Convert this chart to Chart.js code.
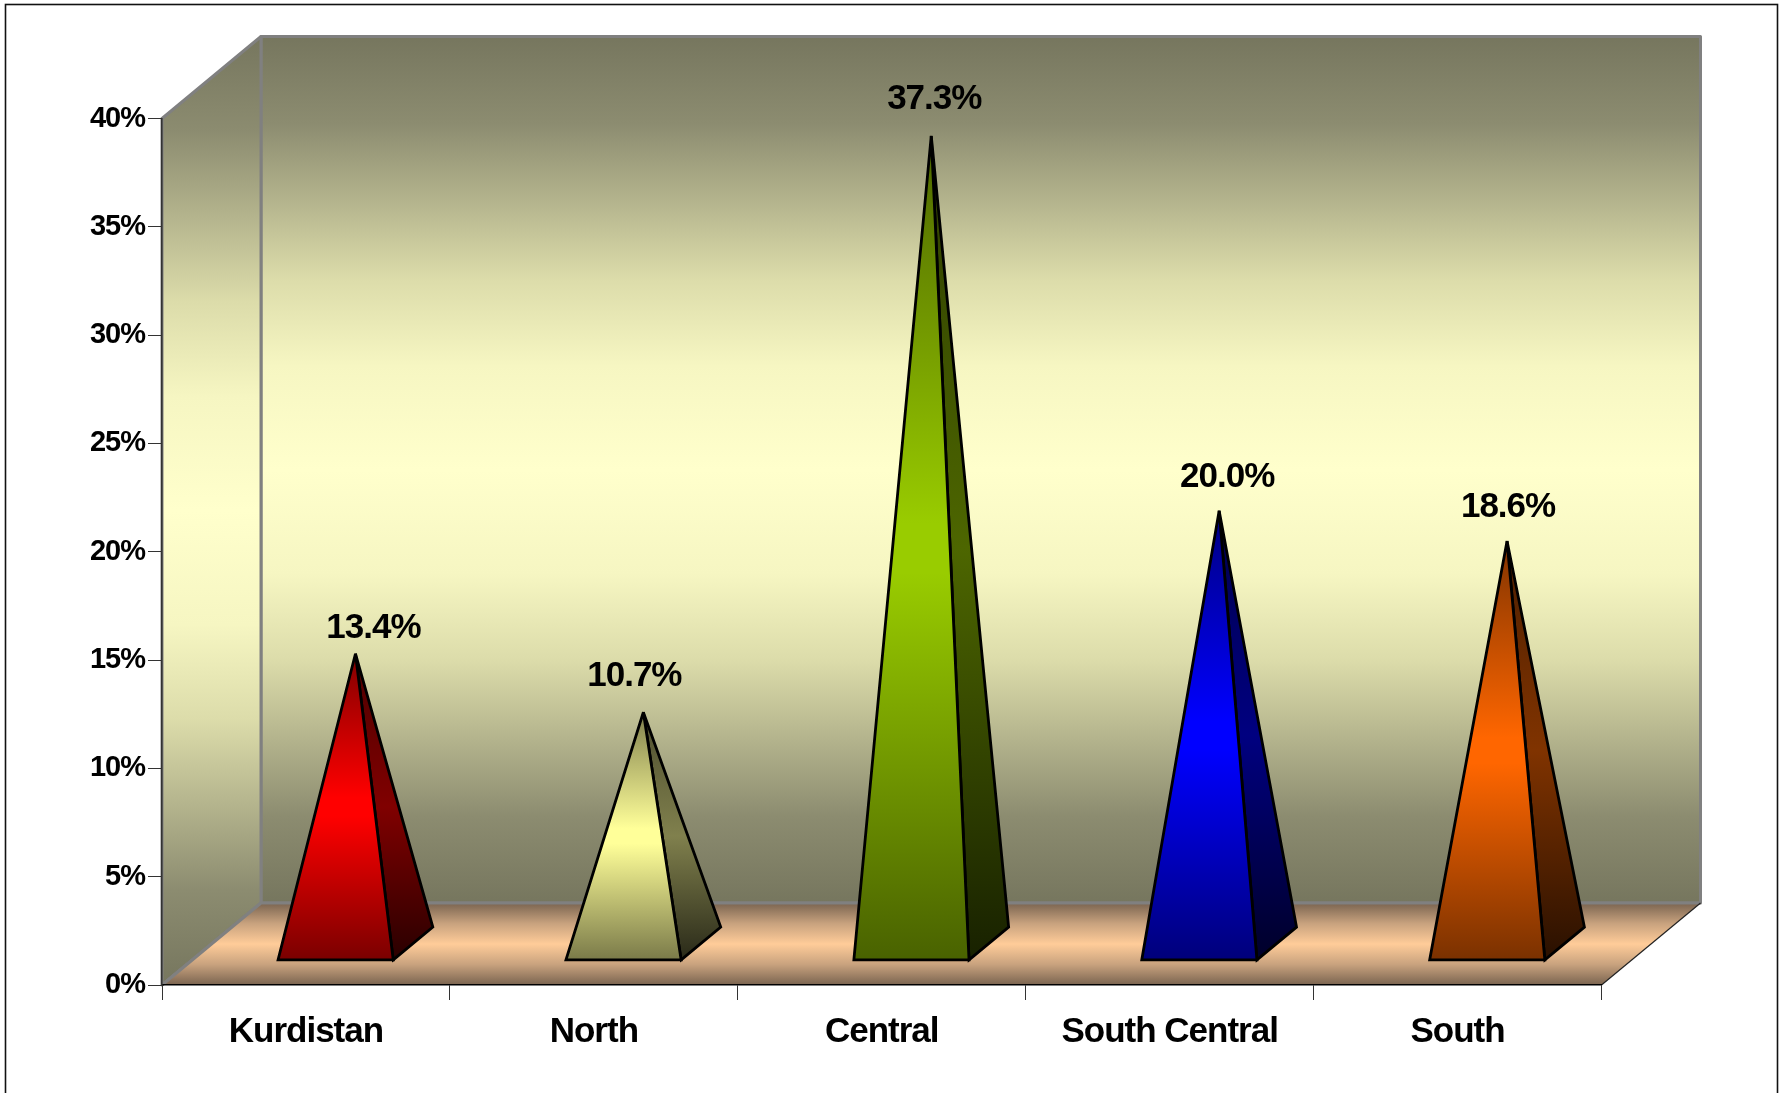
<!DOCTYPE html>
<html>
<head>
<meta charset="utf-8">
<title>Regional shares</title>
<script src="https://cdn.jsdelivr.net/npm/chart.js@4"></script>
<style>
html, body { margin: 0; padding: 0; background: #fff; overflow: hidden; }
canvas { display: block; }
</style>
</head>
<body>
<canvas id="myChart" width="1785" height="1093"></canvas>
<script>
var regions = ["Kurdistan", "North", "Central", "South Central", "South"];
var shares = [13.4, 10.7, 37.3, 20.0, 18.6];
var pyramidColors = ["#ff0000", "#ffff99", "#99cc00", "#0000ff", "#ff6600"];

// how far the 3d box runs back, up and to the right
var DEPTH_X = 99;
var DEPTH_Y = 82;

function shade(hex, k) {
    var n = parseInt(hex.slice(1), 16);
    return "rgb(" + Math.round((n >> 16) * k) + "," + Math.round(((n >> 8) & 255) * k) + "," + Math.round((n & 255) * k) + ")";
}

function vGradient(ctx, y0, y1, stops) {
    var g = ctx.createLinearGradient(0, y0, 0, y1);
    stops.forEach(function (s) { g.addColorStop(s[0], s[1]); });
    return g;
}

function poly(ctx, pts, fill, stroke, lw) {
    ctx.beginPath();
    pts.forEach(function (p, i) { i ? ctx.lineTo(p[0], p[1]) : ctx.moveTo(p[0], p[1]); });
    ctx.closePath();
    if (fill) { ctx.fillStyle = fill; ctx.fill(); }
    if (stroke) { ctx.strokeStyle = stroke; ctx.lineWidth = lw; ctx.stroke(); }
}

// a bar element that paints itself as a four sided pyramid
class PyramidBar extends Chart.BarElement {
    draw(ctx) {
        var p = this.getProps(["x", "y", "base", "width"]);
        var color = this.options.backgroundColor;
        var left = p.x - p.width / 2, right = p.x + p.width / 2;
        var frontY = p.base - DEPTH_Y * 0.3, backY = p.base - DEPTH_Y * 0.7;
        var fl = [left + DEPTH_X * 0.3, frontY];
        var fr = [right + DEPTH_X * 0.3, frontY];
        var br = [right + DEPTH_X * 0.7, backY];
        var apex = [p.x + DEPTH_X * 0.5, p.y - DEPTH_Y * 0.5];

        ctx.save();
        ctx.lineJoin = "miter";
        ctx.miterLimit = 3;
        poly(ctx, [fr, br, apex], vGradient(ctx, apex[1], frontY, [
            [0, shade(color, 0.3)], [0.5, shade(color, 0.5)], [1, shade(color, 0.16)]
        ]), "#000", 2.8);
        poly(ctx, [fl, fr, apex], vGradient(ctx, apex[1], frontY, [
            [0, shade(color, 0.5)], [0.47, color], [0.53, color], [1, shade(color, 0.48)]
        ]), "#000", 2.8);
        ctx.restore();
    }
}
PyramidBar.id = "pyramidBar";
PyramidBar.defaults = Chart.BarElement.defaults;

class PyramidController extends Chart.BarController {}
PyramidController.id = "pyramid";
PyramidController.defaults = { dataElementType: "pyramidBar" };

Chart.register(PyramidBar, PyramidController);

var boxPlugin = {
    id: "box",
    beforeDraw: function (chart) {
        var ctx = chart.ctx, a = chart.chartArea;
        var backL = a.left + DEPTH_X, backR = a.right + DEPTH_X;
        var backT = a.top - DEPTH_Y, backB = a.bottom - DEPTH_Y;
        var wallStops = [
            [0, "#76765e"], [0.1, "#8c8c70"], [0.28, "#dcdcaa"], [0.38, "#f6f6c2"], [0.5, "#ffffcc"],
            [0.62, "#f6f6c2"], [0.72, "#dcdcaa"], [0.9, "#8c8c70"], [1, "#76765e"]
        ];

        ctx.save();
        ctx.fillStyle = "#fff";
        ctx.fillRect(0, 0, chart.width, chart.height);

        // frame round the picture, its bottom edge is cut off
        ctx.strokeStyle = "#111";
        ctx.lineWidth = 1.6;
        ctx.strokeRect(5.5, 4.5, 1772, 1200);

        ctx.lineJoin = "round";
        poly(ctx, [[backL, backT], [backR, backT], [backR, backB], [backL, backB]],
            vGradient(ctx, backT, backB, wallStops), "#808080", 3);
        poly(ctx, [[a.left, a.top], [backL, backT], [backL, backB], [a.left, a.bottom]],
            vGradient(ctx, backT, a.bottom, wallStops), "#808080", 3);
        poly(ctx, [[a.left, a.bottom], [backL, backB], [backR, backB], [a.right, a.bottom]],
            vGradient(ctx, backB, a.bottom, [[0, "#7a6450"], [0.25, "#c8a27e"], [0.5, "#ffcc99"], [0.75, "#c8a27e"], [1, "#7a6450"]]));
        ctx.strokeStyle = "#808080";
        ctx.lineWidth = 3;
        ctx.beginPath();
        ctx.moveTo(a.left, a.bottom); ctx.lineTo(backL, backB); ctx.lineTo(backR, backB);
        ctx.stroke();
        ctx.strokeStyle = "#222";
        ctx.lineWidth = 1.2;
        ctx.beginPath();
        ctx.moveTo(a.right, a.bottom); ctx.lineTo(backR, backB);
        ctx.stroke();
        ctx.restore();

        // the labels in the original are tightly set
        ctx.letterSpacing = "-1px";
    },
    afterDatasetsDraw: function (chart) {
        var ctx = chart.ctx, ds = chart.data.datasets[0];
        ctx.save();
        ctx.font = "bold 35px 'Liberation Sans', Arial, sans-serif";
        ctx.fillStyle = "#000";
        ctx.textAlign = "center";
        ctx.textBaseline = "middle";
        chart.getDatasetMeta(0).data.forEach(function (bar, i) {
            var nudge = ds.labelNudge[i];
            ctx.fillText(shares[i].toFixed(1) + "%", bar.x + DEPTH_X * 0.5 + nudge[0], bar.y - DEPTH_Y * 0.5 - nudge[1]);
        });
        ctx.restore();
    }
};

new Chart("myChart", {
    type: "pyramid",
    data: {
        labels: regions,
        datasets: [{
            data: shares,
            backgroundColor: pyramidColors,
            barPercentage: 0.4,
            categoryPercentage: 1,
            // labels were moved by hand in the original
            labelNudge: [[18, 25], [-9, 36], [3, 37], [8, 33], [1, 34]]
        }]
    },
    options: {
        responsive: false,
        animation: false,
        devicePixelRatio: 1,
        layout: { padding: { left: 0, top: 118.5, right: 183.5, bottom: 0 } },
        plugins: { legend: { display: false }, tooltip: { enabled: false } },
        scales: {
            x: {
                afterFit: function (s) { s.height = 108; },
                grid: { drawOnChartArea: false, color: "#333", tickLength: 15, offset: true },
                border: { color: "#000", width: 1.4 },
                ticks: {
                    color: "#000",
                    padding: 11,
                    maxRotation: 0,
                    font: { family: "'Liberation Sans', Arial, sans-serif", size: 35, weight: "bold" }
                }
            },
            y: {
                min: 0,
                max: 40,
                afterFit: function (s) { s.width = 162; },
                grid: { drawOnChartArea: false, color: "#333", tickLength: 14 },
                border: { color: "#333", width: 1.6 },
                ticks: {
                    stepSize: 5,
                    color: "#000",
                    padding: 3,
                    font: { family: "'Liberation Sans', Arial, sans-serif", size: 29, weight: "bold" },
                    callback: function (v) { return v + "%"; }
                }
            }
        }
    },
    plugins: [boxPlugin]
});
</script>
</body>
</html>
